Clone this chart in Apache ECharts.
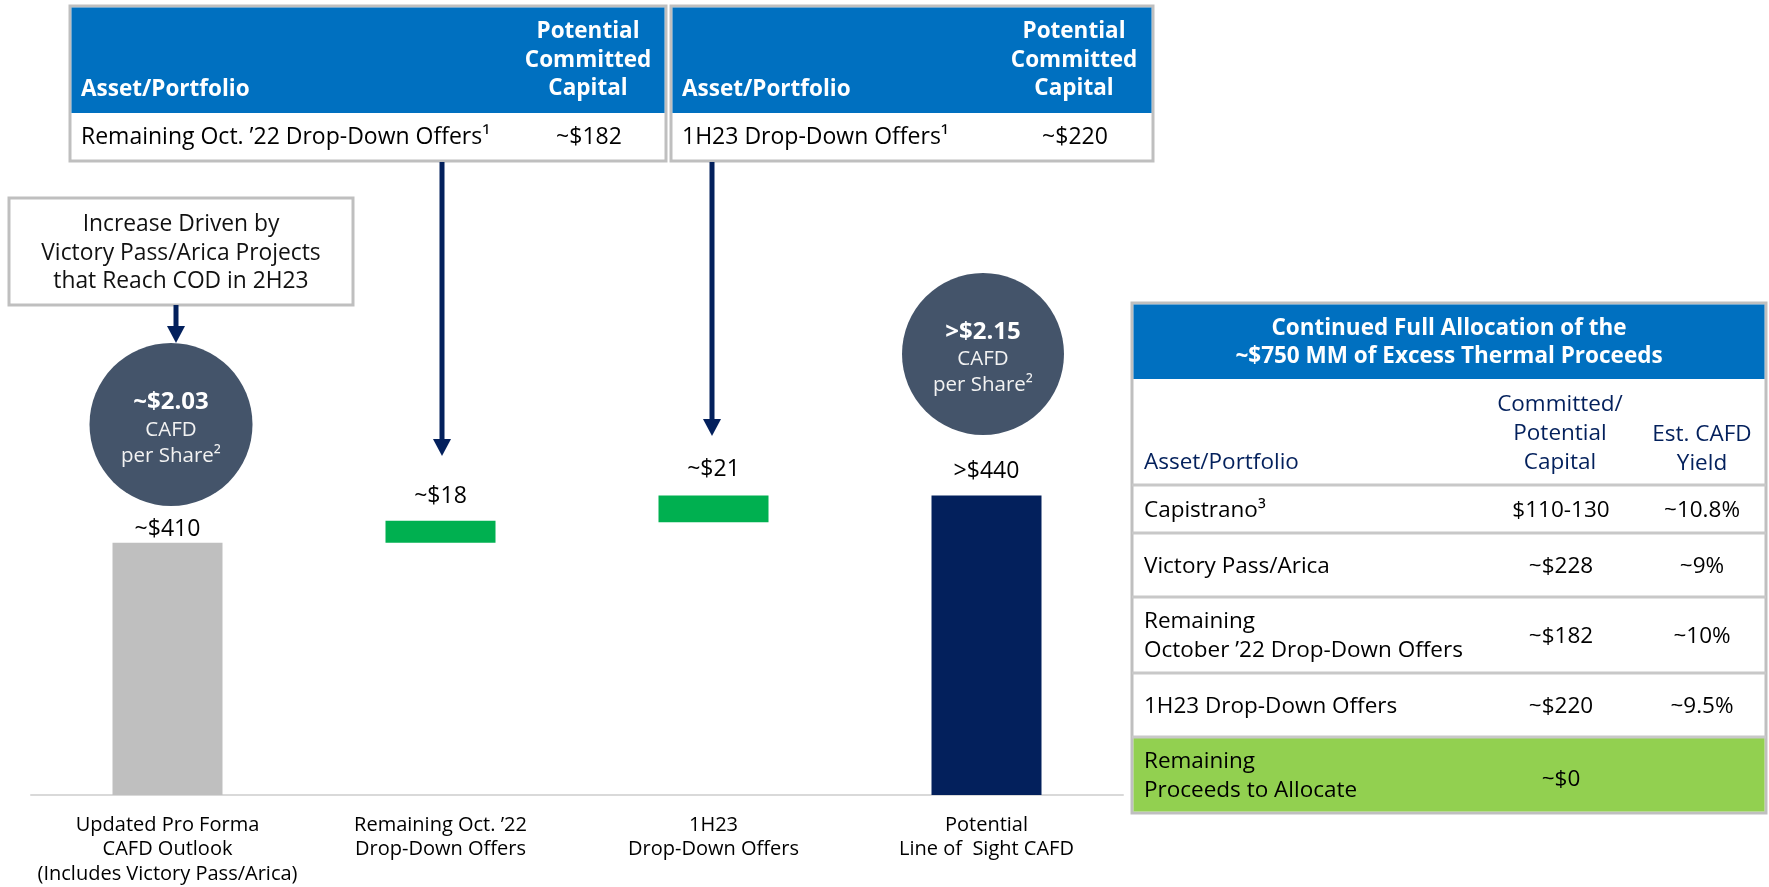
<!DOCTYPE html>
<html>
<head>
<meta charset="utf-8">
<script src="https://cdn.jsdelivr.net/npm/echarts@6/dist/echarts.min.js"></script>
<style>html,body{margin:0;padding:0;background:#fff;}#c{width:1769px;height:887px;}</style>
</head>
<body>
<div id="c"></div>
<script>
// ---- data ----
const categories = ['Updated Pro Forma\nCAFD Outlook\n(Includes Victory Pass/Arica)', 'Remaining Oct. \u201922\nDrop-Down Offers', '1H23\nDrop-Down Offers', 'Potential\nLine of  Sight CAFD'];
const baseValues = [0, 410, 423, 0];          // invisible waterfall offsets
const barValues = [410, 14, 17, 440];         // visible bar heights as drawn
const valueLabels = ['~$410', '~$18', '~$21', '>$440'];
const circleTitles = ['~$2.03', '>$2.15'];
const circleSub = 'CAFD\nper Share\u00B2';
const calloutText = 'Increase Driven by\nVictory Pass/Arica Projects\nthat Reach COD in 2H23';
const topTables = [
  {asset: 'Remaining Oct. \u201922 Drop-Down Offers\u00B9', capital: '~$182'},
  {asset: '1H23 Drop-Down Offers\u00B9', capital: '~$220'}
];
const allocTitle = 'Continued Full Allocation of the\n~$750 MM of Excess Thermal Proceeds';
const allocHeaders = ['Asset/Portfolio', 'Committed/\nPotential\nCapital', 'Est. CAFD\nYield'];
const allocAssets = ['Capistrano\u00B3', 'Victory Pass/Arica', 'Remaining\nOctober \u201922 Drop-Down Offers', '1H23 Drop-Down Offers', 'Remaining\nProceeds to Allocate'];
const allocCapital = ['$110-130', '~$228', '~$182', '~$220', '~$0'];
const allocYield = ['~10.8%', '~9%', '~10%', '~9.5%', ''];

// ---- styles ----
const FONT = 'Open Sans';
const barColors = ['#BFBFBF', '#00B050', '#00B050', '#03205C'];
const labelDist = [2, 13, 15, 13];
const BLUE = '#0070C0', NAVY = '#03205C', GRAY = '#BFBFBF', SLATE = '#44546A';

const chart = echarts.init(document.getElementById('c'), null, {renderer: 'canvas'});

function txt(x, y, text, opt) {
  return Object.assign({type: 'text', x: x, y: y, style: Object.assign({
    text: text, fontFamily: FONT, fontSize: 22.5, fill: '#000', align: 'left', verticalAlign: 'middle', lineHeight: 28.5
  }, opt || {})});
}
function rect(x, y, w, h, fill, stroke, lw) {
  return {type: 'rect', shape: {x: x, y: y, width: w, height: h}, style: {fill: fill, stroke: stroke || null, lineWidth: lw || 0}};
}
function arrow(x, y0, tip) {
  return [
    rect(x - 2.5, y0, 5, tip - y0 - 14, NAVY),
    {type: 'polygon', shape: {points: [[x - 9, tip - 17], [x + 9, tip - 17], [x, tip]]}, style: {fill: NAVY}}
  ];
}

const g = [];
// top tables
const tLayout = [{x: 70, w: 596, cap: 588}, {x: 671, w: 482, cap: 1074}];
topTables.forEach(function (t, i) {
  const L = tLayout[i];
  g.push(rect(L.x, 6, L.w, 155, '#fff', GRAY, 3));
  g.push(rect(L.x + 1.5, 7.5, L.w - 3, 105.5, BLUE));
  g.push(txt(L.x + 11, 90, 'Asset/Portfolio', {fill: '#fff', fontWeight: 'bold', fontSize: 22.5}));
  g.push(txt(L.cap, 60.5, 'Potential\nCommitted\nCapital', {fill: '#fff', fontWeight: 'bold', fontSize: 22.5, align: 'center'}));
  g.push(txt(L.x + 11, 137, t.asset, {fontSize: 23}));
  g.push(txt(L.cap + 1, 137, t.capital, {fontSize: 23, align: 'center'}));
});
// callout
g.push(rect(9, 198, 344, 107, '#fff', GRAY, 3));
g.push(txt(181, 253.5, calloutText, {align: 'center', fontSize: 22.8, fill: '#111'}));
// arrows
arrow(176, 305, 343).forEach(function (e) { g.push(e); });
arrow(442, 162, 456).forEach(function (e) { g.push(e); });
arrow(712, 162, 436).forEach(function (e) { g.push(e); });
// circles
const circles = [{cx: 171, cy: 424.5, r: 81.5}, {cx: 983, cy: 354, r: 81}];
circles.forEach(function (c, i) {
  g.push({type: 'circle', shape: {cx: c.cx, cy: c.cy, r: c.r}, style: {fill: SLATE}});
  g.push(txt(c.cx, c.cy - 22, circleTitles[i], {fill: '#fff', fontWeight: 'bold', fontSize: 24, align: 'center'}));
  g.push(txt(c.cx, c.cy + 18.5, circleSub, {fill: '#F2F2F2', fontSize: 20.5, align: 'center', lineHeight: 26}));
});
// allocation table
const AX = 1132, AW = 634;
const rowEdges = [485, 533, 597, 673, 737, 813];
g.push(rect(AX, 303, AW, 510, '#fff', GRAY, 3));
g.push(rect(AX + 1.5, 304.5, AW - 3, 74.5, BLUE));
g.push(rect(AX + 1.5, 737, AW - 3, 74.5, '#92D050'));
g.push(txt(1449, 343, allocTitle, {fill: '#fff', fontWeight: 'bold', fontSize: 22.5, align: 'center', lineHeight: 28}));
g.push(txt(1144, 463, allocHeaders[0], {fill: NAVY, fontSize: 22.5}));
g.push(txt(1560, 434, allocHeaders[1], {fill: NAVY, fontSize: 22.5, align: 'center', lineHeight: 29}));
g.push(txt(1702, 449, allocHeaders[2], {fill: NAVY, fontSize: 22.5, align: 'center', lineHeight: 29}));
for (let i = 0; i < 5; i++) {
  g.push({type: 'line', shape: {x1: AX, y1: rowEdges[i], x2: AX + AW, y2: rowEdges[i]}, style: {stroke: '#C8C8C8', lineWidth: 3}});
}
allocAssets.forEach(function (a, i) {
  const cy = (rowEdges[i] + rowEdges[i + 1]) / 2 + 1.5;
  g.push(txt(1144, cy, a, {fontSize: 22.5, lineHeight: 29}));
  g.push(txt(1561, cy + (i === 4 ? 3 : 0), allocCapital[i], {fontSize: 22.5, align: 'center'}));
  g.push(txt(1702, cy, allocYield[i], {fontSize: 22.5, align: 'center'}));
});

const option = {
  backgroundColor: '#fff',
  animation: false,
  grid: {left: 31, right: 646, top: 401, bottom: 92, containLabel: false},
  xAxis: {
    type: 'category', data: categories,
    axisTick: {show: false},
    axisLine: {lineStyle: {color: '#D9D9D9', width: 2}},
    axisLabel: {interval: 0, color: '#000', fontFamily: FONT, fontSize: 20, lineHeight: 24.5, margin: 18}
  },
  yAxis: {type: 'value', min: 250, max: 500, show: false, splitLine: {show: false}},
  series: [
    {type: 'bar', stack: 'w', data: baseValues, barWidth: 110, silent: true,
     itemStyle: {color: 'rgba(0,0,0,0)'}},
    {type: 'bar', stack: 'w', barWidth: 110,
     data: barValues.map(function (v, i) {
       return {value: v, itemStyle: {color: barColors[i]}, label: {distance: labelDist[i]}};
     }),
     label: {show: true, position: 'top', fontFamily: FONT, fontSize: 23, color: '#000',
       formatter: function (p) { return valueLabels[p.dataIndex]; }}}
  ],
  graphic: g
};
chart.setOption(option);
</script>
</body>
</html>
